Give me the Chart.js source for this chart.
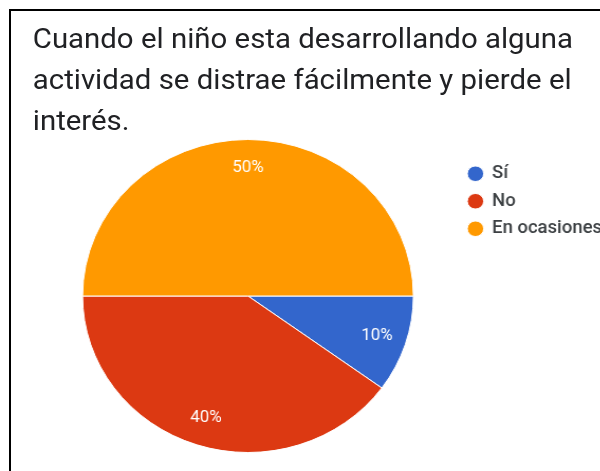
<!DOCTYPE html>
<html lang="es">
<head>
<meta charset="utf-8">
<script src="https://cdn.jsdelivr.net/npm/chart.js@4.4.1/dist/chart.umd.min.js"></script>
<style>
  html, body { margin: 0; padding: 0; background: #fff; overflow: hidden; }
  body { width: 600px; height: 471px; position: relative; }
  /* the screenshot is a bit stretched sideways, so the whole card is too */
  #card { position: absolute; left: 0; top: 0; width: 600px; height: 471px;
          transform: scaleX(1.057); transform-origin: 0 0; }
  #title { position: absolute; left: 31px; top: 18px; margin: 0;
           font: 400 27.8px/41px Roboto, sans-serif; color: #202124; white-space: nowrap; }
  #wrap { position: absolute; left: 0; top: 0; width: 600px; height: 471px; }
  #frame { position: absolute; left: 9px; top: 9px; width: 620px; height: 480px;
           border-top: 2px solid #000; border-left: 2px solid #000; }
</style>
</head>
<body>
<div id="card">
  <div id="wrap"><canvas id="pie"></canvas></div>
  <p id="title">Cuando el niño esta desarrollando alguna<br>actividad se distrae fácilmente y pierde el<br>interés.</p>
</div>
<div id="frame"></div>
<script>
// ── DATA ───────────────────────────────────────────────────────
const answers = ['Sí', 'No', 'En ocasiones'];
const shares = [10, 40, 50];
const sliceColors = ['#3366cc', '#dc3912', '#ff9900'];

// percent text inside each slice
const sliceLabels = {
  id: 'sliceLabels',
  afterDatasetsDraw(chart) {
    const ctx = chart.ctx;
    const meta = chart.getDatasetMeta(0);
    const total = shares.reduce((a, b) => a + b, 0);
    ctx.save();
    ctx.font = '16px Roboto, sans-serif';
    ctx.fillStyle = '#ffffff';
    ctx.textAlign = 'center';
    ctx.textBaseline = 'middle';
    meta.data.forEach((arc, i) => {
      const p = arc.getProps(['x', 'y', 'startAngle', 'endAngle', 'outerRadius'], true);
      const mid = (p.startAngle + p.endAngle) / 2;
      const r = p.outerRadius * 0.82;
      const pct = Math.round(shares[i] / total * 100) + '%';
      ctx.fillText(pct, p.x + Math.cos(mid) * r, p.y + Math.sin(mid) * r);
    });
    ctx.restore();
  }
};

new Chart(document.getElementById('pie'), {
  type: 'pie',
  data: {
    labels: answers,
    datasets: [{
      data: shares,
      backgroundColor: sliceColors,
      borderColor: '#ffffff',
      borderWidth: 1
    }]
  },
  options: {
    responsive: true,
    maintainAspectRatio: false,
    animation: false,
    rotation: 90,
    layout: { padding: { left: 36.4, right: 27.2, top: 139, bottom: 18 } },
    plugins: {
      tooltip: { enabled: false },
      legend: {
        position: 'right',
        align: 'start',
        maxWidth: 140,
        title: { display: true, text: '', font: { size: 10, lineHeight: 1.6 }, padding: 0 },
        labels: {
          usePointStyle: true,
          pointStyle: 'circle',
          boxWidth: 14,
          boxHeight: 11,
          padding: 10,
          color: '#3c4043',
          font: { family: 'Roboto', size: 17.5, weight: '500' }
        }
      }
    }
  },
  plugins: [sliceLabels]
});
</script>
</body>
</html>
